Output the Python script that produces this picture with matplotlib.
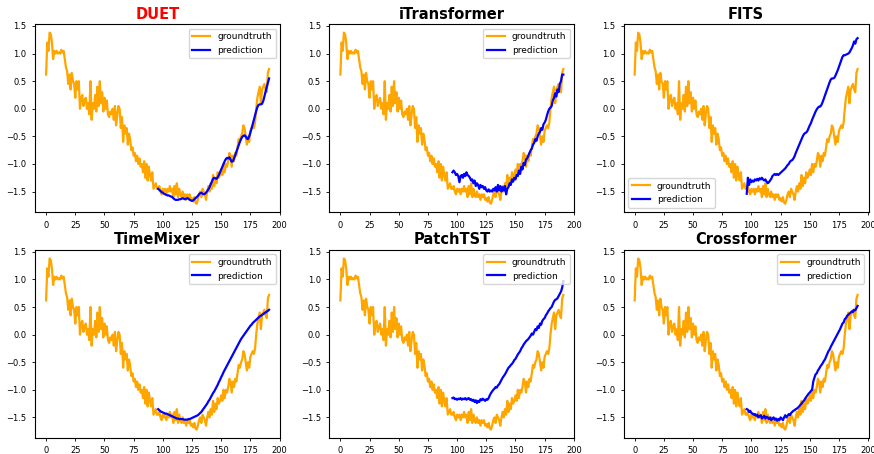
import numpy as np
import matplotlib
matplotlib.use("Agg")
import matplotlib.pyplot as plt

# groundtruth, steps 0..191
groundtruth = [
    0.62, 1.20, 1.05, 1.38, 1.35, 1.20, 0.90, 1.05, 1.00, 1.05,
    1.00, 1.02, 1.00, 1.07, 1.02, 1.05, 0.90, 0.75, 0.68, 0.45,
    0.62, 0.35, 0.65, 0.50, 0.45, 0.20, 0.50, 0.35, 0.50, 0.00,
    0.20, 0.25, 0.05, 0.15, 0.20, 0.00, 0.10, -0.10, 0.50, -0.20,
    0.10, 0.00, 0.25, -0.05, 0.40, 0.05, 0.50, 0.10, 0.30, -0.05,
    0.20, 0.00, 0.15, -0.10, -0.15, -0.05, -0.10, 0.00, -0.20, 0.05,
    -0.30, -0.10, 0.05, 0.00, -0.35, -0.15, -0.60, -0.30, -0.45, -0.35,
    -0.65, -0.45, -0.55, -0.75, -0.70, -0.85, -0.80, -0.95, -0.85, -1.00,
    -0.90, -1.05, -1.00, -1.15, -0.95, -1.25, -1.00, -1.30, -1.05, -1.20,
    -1.30, -1.15, -1.45, -1.40, -1.35, -1.45, -1.45, -1.40, -1.50, -1.55,
    -1.45, -1.50, -1.45, -1.55, -1.45, -1.50, -1.40, -1.50, -1.45, -1.60,
    -1.40, -1.55, -1.35, -1.60, -1.45, -1.55, -1.60, -1.50, -1.60, -1.55,
    -1.65, -1.55, -1.60, -1.55, -1.65, -1.62, -1.68, -1.60, -1.70, -1.72,
    -1.65, -1.55, -1.50, -1.60, -1.45, -1.50, -1.55, -1.65, -1.50, -1.40,
    -1.50, -1.35, -1.45, -1.20, -1.40, -1.25, -1.35, -1.15, -1.25, -1.20,
    -1.10, -1.20, -1.00, -1.15, -1.00, -1.05, -0.95, -0.80, -0.85, -1.05,
    -0.85, -0.95, -0.80, -0.85, -0.70, -0.55, -0.60, -0.50, -0.45, -0.30,
    -0.35, -0.50, -0.65, -0.50, -0.60, -0.40, -0.35, -0.30, -0.35, -0.25,
    0.00, 0.20, 0.30, 0.40, 0.10, 0.35, 0.40, 0.45, 0.35, 0.30,
    0.65, 0.72,
]

# predictions, steps 96..191
pred_duet = [
    -1.45, -1.47, -1.49, -1.51, -1.52, -1.54, -1.55, -1.56, -1.57, -1.57, -1.58, -1.59,
    -1.60, -1.62, -1.64, -1.65, -1.65, -1.65, -1.64, -1.64, -1.63, -1.62, -1.63, -1.64,
    -1.63, -1.62, -1.63, -1.65, -1.66, -1.67, -1.66, -1.64, -1.62, -1.60, -1.58, -1.55,
    -1.53, -1.52, -1.54, -1.55, -1.54, -1.52, -1.49, -1.46, -1.42, -1.37, -1.32, -1.27,
    -1.25, -1.26, -1.27, -1.24, -1.20, -1.15, -1.10, -1.05, -1.00, -0.95, -0.91, -0.89,
    -0.90, -0.88, -0.92, -0.96, -0.95, -0.90, -0.84, -0.78, -0.72, -0.66, -0.60, -0.55,
    -0.51, -0.49, -0.48, -0.50, -0.54, -0.55, -0.50, -0.43, -0.36, -0.28, -0.20, -0.12,
    -0.04, 0.03, 0.07, 0.08, 0.08, 0.09, 0.14, 0.22, 0.31, 0.39, 0.47, 0.55,
]
pred_itransformer = [
    -1.15, -1.12, -1.15, -1.20, -1.18, -1.22, -1.33, -1.22, -1.20, -1.25, -1.18, -1.22,
    -1.15, -1.20, -1.22, -1.25, -1.30, -1.28, -1.35, -1.30, -1.40, -1.35, -1.38, -1.45,
    -1.38, -1.42, -1.40, -1.45, -1.42, -1.48, -1.50, -1.46, -1.50, -1.48, -1.50, -1.45,
    -1.48, -1.42, -1.50, -1.38, -1.48, -1.40, -1.50, -1.42, -1.48, -1.40, -1.55, -1.45,
    -1.42, -1.35, -1.38, -1.28, -1.32, -1.25, -1.28, -1.20, -1.22, -1.12, -1.18, -1.05,
    -1.10, -0.98, -1.02, -0.92, -0.90, -0.85, -0.80, -0.75, -0.72, -0.65, -0.62, -0.55,
    -0.58, -0.50, -0.45, -0.42, -0.35, -0.38, -0.28, -0.25, -0.20, -0.12, -0.05, 0.00,
    0.02, 0.05, 0.15, 0.20, 0.28, 0.22, 0.35, 0.30, 0.45, 0.50, 0.62, 0.62,
]
pred_fits = [
    -1.54, -1.25, -1.38, -1.28, -1.33, -1.30, -1.32, -1.28, -1.30, -1.27, -1.30, -1.26,
    -1.28, -1.25, -1.28, -1.30, -1.28, -1.32, -1.35, -1.33, -1.30, -1.27, -1.22, -1.20,
    -1.18, -1.20, -1.18, -1.20, -1.18, -1.16, -1.14, -1.12, -1.10, -1.08, -1.05, -1.02,
    -1.00, -0.96, -0.94, -0.93, -0.90, -0.86, -0.80, -0.75, -0.70, -0.65, -0.60, -0.55,
    -0.50, -0.46, -0.44, -0.43, -0.40, -0.35, -0.30, -0.26, -0.20, -0.15, -0.10, -0.05,
    -0.01, 0.02, 0.04, 0.04, 0.07, 0.12, 0.18, 0.24, 0.30, 0.36, 0.42, 0.48,
    0.53, 0.55, 0.55, 0.56, 0.60, 0.65, 0.70, 0.76, 0.82, 0.88, 0.94, 0.97,
    0.97, 0.98, 0.99, 1.00, 1.02, 1.06, 1.10, 1.15, 1.22, 1.18, 1.26, 1.28,
]
pred_timemixer = [
    -1.35, -1.37, -1.39, -1.40, -1.41, -1.42, -1.43, -1.43, -1.44, -1.45, -1.46, -1.47,
    -1.48, -1.49, -1.50, -1.51, -1.52, -1.52, -1.53, -1.53, -1.53, -1.53, -1.54, -1.54,
    -1.54, -1.54, -1.53, -1.53, -1.52, -1.51, -1.50, -1.49, -1.48, -1.47, -1.46, -1.44,
    -1.42, -1.40, -1.37, -1.34, -1.31, -1.28, -1.25, -1.21, -1.18, -1.14, -1.10, -1.06,
    -1.03, -0.99, -0.95, -0.91, -0.86, -0.82, -0.77, -0.73, -0.68, -0.64, -0.60, -0.56,
    -0.52, -0.48, -0.44, -0.40, -0.36, -0.32, -0.28, -0.24, -0.20, -0.16, -0.12, -0.08,
    -0.05, -0.02, 0.01, 0.04, 0.07, 0.10, 0.13, 0.16, 0.18, 0.21, 0.23, 0.25,
    0.27, 0.29, 0.31, 0.33, 0.34, 0.36, 0.37, 0.39, 0.40, 0.42, 0.43, 0.45,
]
pred_patchtst = [
    -1.15, -1.14, -1.17, -1.16, -1.18, -1.16, -1.17, -1.15, -1.18, -1.16, -1.17, -1.15,
    -1.18, -1.16, -1.15, -1.18, -1.17, -1.20, -1.18, -1.22, -1.19, -1.24, -1.20, -1.22,
    -1.17, -1.19, -1.16, -1.18, -1.20, -1.17, -1.18, -1.15, -1.10, -1.06, -1.03, -1.00,
    -0.98, -0.95, -0.96, -0.92, -0.90, -0.86, -0.82, -0.78, -0.75, -0.72, -0.68, -0.64,
    -0.60, -0.58, -0.55, -0.53, -0.50, -0.46, -0.44, -0.40, -0.36, -0.33, -0.30, -0.25,
    -0.22, -0.18, -0.15, -0.12, -0.10, -0.08, -0.05, -0.02, 0.02, 0.00, 0.05, 0.10,
    0.08, 0.15, 0.12, 0.20, 0.18, 0.25, 0.28, 0.30, 0.35, 0.38, 0.42, 0.45,
    0.48, 0.50, 0.55, 0.60, 0.63, 0.64, 0.66, 0.70, 0.74, 0.78, 0.85, 0.97,
]
pred_crossformer = [
    -1.35, -1.36, -1.40, -1.38, -1.42, -1.43, -1.45, -1.44, -1.47, -1.45, -1.50, -1.48,
    -1.46, -1.52, -1.50, -1.47, -1.52, -1.49, -1.50, -1.53, -1.50, -1.55, -1.52, -1.50,
    -1.54, -1.52, -1.56, -1.53, -1.55, -1.50, -1.52, -1.55, -1.50, -1.46, -1.50, -1.47,
    -1.44, -1.46, -1.42, -1.40, -1.38, -1.37, -1.35, -1.34, -1.32, -1.30, -1.27, -1.25,
    -1.22, -1.20, -1.16, -1.13, -1.10, -1.07, -1.05, -1.02, -1.00, -0.85, -0.78, -0.72,
    -0.70, -0.65, -0.62, -0.58, -0.55, -0.52, -0.48, -0.45, -0.40, -0.35, -0.30, -0.27,
    -0.22, -0.18, -0.14, -0.10, -0.06, -0.02, 0.02, 0.06, 0.10, 0.15, 0.20, 0.22,
    0.28, 0.30, 0.34, 0.36, 0.38, 0.40, 0.42, 0.41, 0.45, 0.44, 0.48, 0.52,
]

models = ["DUET", "iTransformer", "FITS", "TimeMixer", "PatchTST", "Crossformer"]
preds = [pred_duet, pred_itransformer, pred_fits, pred_timemixer, pred_patchtst, pred_crossformer]
legend_loc = ["upper right", "upper right", "lower left", "upper right", "upper right", "upper right"]

x_gt = np.arange(len(groundtruth))
x_pred = np.arange(96, 96 + len(pred_duet))

fig, axes = plt.subplots(2, 3, figsize=(8.74, 4.54), dpi=100)
fig.subplots_adjust(left=0.040, right=0.994, top=0.947, bottom=0.035, wspace=0.2, hspace=0.2)

for ax, name, pred, loc in zip(axes.flat, models, preds, legend_loc):
    ax.plot(x_gt, groundtruth, color="orange", lw=1.6, label="groundtruth")
    ax.plot(x_pred, pred, color="blue", lw=1.6, label="prediction")
    ax.set_xticks([0, 25, 50, 75, 100, 125, 150, 175, 200])
    ax.set_yticks([-1.5, -1.0, -0.5, 0.0, 0.5, 1.0, 1.5])
    ax.tick_params(labelsize=6, length=2.5, width=0.6)
    for s in ax.spines.values():
        s.set_linewidth(0.8)
    ax.legend(loc=loc, fontsize=6.5)
    ax.set_title(name, fontsize=10.5, fontweight="bold",
                 color="red" if name == "DUET" else "black", pad=4)

fig.savefig("out.png", dpi=100)
